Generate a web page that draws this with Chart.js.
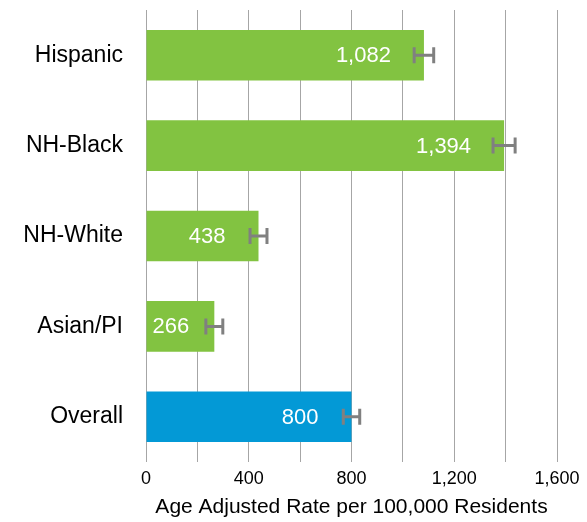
<!DOCTYPE html>
<html>
<head>
<meta charset="utf-8">
<script src="https://cdn.jsdelivr.net/npm/chart.js@4.4.0/dist/chart.umd.min.js"></script>
<style>
  body { margin: 0; background: #fff; }
  #wrap { width: 587px; height: 522px; }
</style>
</head>
<body>
<div id="wrap"><canvas id="chart" width="587" height="522"></canvas></div>
<script>
// datos
const categories = ["Hispanic", "NH-Black", "NH-White", "Asian/PI", "Overall"];
const rates = [1082, 1394, 438, 266, 800];
const errorMargins = [38, 43, 33, 33, 32];
const tickLabels = [0, 400, 800, 1200, 1600];

const green = "#82C341";
const blue = "#0399D6";
const barColors = categories.map((c) => (c === "Overall" ? blue : green));
const fontFamily = "'Liberation Sans', Arial, sans-serif";

// barras de error
const errorBarPlugin = {
  id: "errorBars",
  afterDatasetsDraw(chart) {
    const ctx = chart.ctx;
    const xScale = chart.scales.x;
    const meta = chart.getDatasetMeta(0);
    ctx.save();
    ctx.strokeStyle = "#808080";
    ctx.lineWidth = 3;
    meta.data.forEach((bar, i) => {
      const lo = xScale.getPixelForValue(rates[i] - errorMargins[i]);
      const hi = xScale.getPixelForValue(rates[i] + errorMargins[i]);
      const y = bar.y;
      ctx.beginPath();
      ctx.moveTo(lo, y);
      ctx.lineTo(hi, y);
      ctx.moveTo(lo, y - 8);
      ctx.lineTo(lo, y + 8);
      ctx.moveTo(hi, y - 8);
      ctx.lineTo(hi, y + 8);
      ctx.stroke();
    });
    ctx.restore();
  },
};

// etiquetas de valor
const valueLabelPlugin = {
  id: "valueLabels",
  afterDatasetsDraw(chart) {
    const ctx = chart.ctx;
    const meta = chart.getDatasetMeta(0);
    ctx.save();
    ctx.fillStyle = "#ffffff";
    ctx.font = "22px " + fontFamily;
    ctx.textBaseline = "middle";
    ctx.textAlign = "right";
    meta.data.forEach((bar, i) => {
      const text = rates[i].toLocaleString("en-US");
      const w = ctx.measureText(text).width;
      let right = bar.x - 33;
      if (right - w < bar.base + 6) right = bar.base + 6 + w;
      ctx.fillText(text, right, bar.y + 1);
    });
    ctx.restore();
  },
};

const chart = new Chart(document.getElementById("chart").getContext("2d"), {
  type: "bar",
  data: {
    labels: categories,
    datasets: [
      {
        data: rates,
        backgroundColor: barColors,
        borderWidth: 0,
        barPercentage: 0.56,
        categoryPercentage: 1,
      },
    ],
  },
  options: {
    indexAxis: "y",
    responsive: false,
    animation: false,
    layout: { padding: { top: 10, right: 30, left: 0, bottom: 0 } },
    plugins: {
      legend: { display: false },
      tooltip: { enabled: false },
    },
    scales: {
      x: {
        min: 0,
        max: 1600,
        grid: { color: "#a6a6a6", lineWidth: 1, drawTicks: false },
        border: { display: false },
        ticks: {
          stepSize: 200,
          padding: 6,
          color: "#000",
          font: { family: fontFamily, size: 18 },
          callback: (v) => (tickLabels.includes(v) ? v.toLocaleString("en-US") : ""),
        },
        title: {
          display: true,
          text: "Age Adjusted Rate per 100,000 Residents",
          color: "#000",
          font: { family: fontFamily, size: 21 },
          padding: { top: 4, bottom: 2 },
        },
        afterFit: (s) => { s.height = 60; },
      },
      y: {
        grid: { display: false, drawTicks: false },
        border: { display: false },
        ticks: {
          padding: 23,
          color: "#000",
          font: { family: fontFamily, size: 23 },
        },
        afterFit: (s) => {
          s.width = 146;
          s.paddingTop = 0;
          s.paddingBottom = 0;
        },
      },
    },
  },
  plugins: [errorBarPlugin, valueLabelPlugin],
});
</script>
</body>
</html>
